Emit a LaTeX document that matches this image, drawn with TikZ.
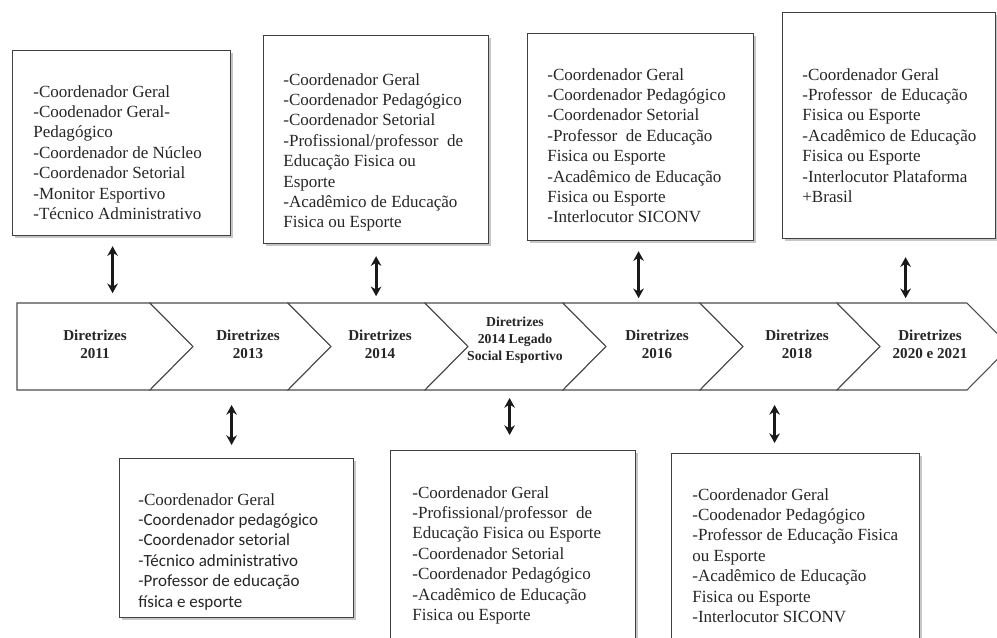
\documentclass[tikz,border=0pt]{standalone}
\usepackage{fontspec}
\setmainfont{Liberation Serif}
\newfontfamily\calibri{Carlito}
\usetikzlibrary{arrows.meta,shadows}

\tikzset{
  box/.style={draw=black!75, line width=0.7pt, fill=white, inner sep=0pt, anchor=north west,
    drop shadow={shadow xshift=1.6pt, shadow yshift=-1.6pt, opacity=0.45}},
  txt/.style={anchor=north west, align=left, inner sep=0pt, text=black!85,
    font=\fontsize{9.7}{11.6}\selectfont},
  chev/.style={draw=black!70, line width=0.6pt, fill=white},
  lbl/.style={align=center, inner sep=0pt, text=black!85,
    font=\fontsize{8.6}{10.2}\selectfont\bfseries},
  dblarrow/.style={{Stealth[length=5.5pt,width=6pt]}-{Stealth[length=5.5pt,width=6pt]},
    line width=1.7pt, black!90}
}

\begin{document}
\begin{tikzpicture}[x=0.02cm, y=-0.02cm]
  \useasboundingbox (0,0) rectangle (997,637);
  \clip (0,0) rectangle (997,637);

  % time line
  \draw[chev] (17,303) -- (150,303) -- ++(43,43.5) -- (150,390) -- (17,390) -- cycle;
  \foreach \l/\r in {150/288, 288/425, 425/563, 563/700, 700/837, 837/967}
    \draw[chev] (\l,303) -- (\r,303) -- ++(43,43.5) -- (\r,390) -- (\l,390) -- ++(43,-43.5) -- cycle;

  \node[lbl] (d1) at (95,344) {Diretrizes\\2011};
  \node[lbl] (d2) at (248,344) {Diretrizes\\2013};
  \node[lbl] (d3) at (380,344) {Diretrizes\\2014};
  \node[lbl, font=\fontsize{7.8}{9.6}\selectfont\bfseries] (d4) at (515,340) {Diretrizes\\2014 Legado\\Social Esportivo};
  \node[lbl] (d5) at (657,344) {Diretrizes\\2016};
  \node[lbl] (d6) at (797,344) {Diretrizes\\2018};
  \node[lbl] (d7) at (930,344) {Diretrizes\\2020 e 2021};

  % boxes above
  \node[box, minimum width=4.36cm, minimum height=3.7cm] (b1) at (12,50) {};
  \node[txt] (t1) at ([shift={(21,35)}]b1.north west)
    {-Coordenador Geral\\-Coodenador Geral-\\Pedagógico\\-Coordenador de Núcleo\\-Coordenador Setorial\\-Monitor Esportivo\\-Técnico Administrativo};

  \node[box, minimum width=4.5cm, minimum height=4.16cm] (b2) at (263,35) {};
  \node[txt] (t2) at ([shift={(20,38)}]b2.north west)
    {-Coordenador Geral\\-Coordenador Pedagógico\\-Coordenador Setorial\\-Profissional/professor~ de\\Educação Fisica ou\\Esporte\\-Acadêmico de Educação\\Fisica ou Esporte};

  \node[box, minimum width=4.52cm, minimum height=4.14cm] (b3) at (527,33) {};
  \node[txt] (t3) at ([shift={(20,35)}]b3.north west)
    {-Coordenador Geral\\-Coordenador Pedagógico\\-Coordenador Setorial\\-Professor~ de Educação\\Fisica ou Esporte\\-Acadêmico de Educação\\Fisica ou Esporte\\-Interlocutor SICONV};

  \node[box, minimum width=4.26cm, minimum height=4.52cm] (b4) at (782,12) {};
  \node[txt] (t4) at ([shift={(20,56)}]b4.north west)
    {-Coordenador Geral\\-Professor~ de Educação\\Fisica ou Esporte\\-Acadêmico de Educação\\Fisica ou Esporte\\-Interlocutor Plataforma\\+Brasil};

  % boxes below
  \node[box, minimum width=4.68cm, minimum height=3.18cm] (b5) at (119,458) {};
  \node[txt] (t5) at ([shift={(19,35)}]b5.north west)
    {-Coordenador Geral\\{\calibri -Coordenador pedagógico}\\{\calibri -Coordenador setorial}\\{\calibri -Técnico administrativo}\\{\calibri -Professor de educação}\\{\calibri física e esporte}};

  \node[box, minimum width=4.9cm, minimum height=4cm] (b6) at (390,450) {};
  \node[txt] (t6) at ([shift={(22,36)}]b6.north west)
    {-Coordenador Geral\\-Profissional/professor~ de\\Educação Fisica ou Esporte\\-Coordenador Setorial\\-Coordenador Pedagógico\\-Acadêmico de Educação\\Fisica ou Esporte};

  \node[box, minimum width=4.96cm, minimum height=4cm] (b7) at (671,453) {};
  \node[txt] (t7) at ([shift={(21,35)}]b7.north west)
    {-Coordenador Geral\\-Coodenador Pedagógico\\-Professor de Educação Fisica\\ou Esporte\\-Acadêmico de Educação\\Fisica ou Esporte\\-Interlocutor SICONV};

  % arrows
  \draw[dblarrow] ([shift={(-9,10)}]b1.south) -- ++(0,47);
  \draw[dblarrow] ([shift={(0,12)}]b2.south) -- ++(0,40);
  \draw[dblarrow] ([shift={(-2,10)}]b3.south) -- ++(0,47);
  \draw[dblarrow] ([shift={(16.5,18)}]b4.south) -- ++(0,41);
  \draw[dblarrow] ([shift={(-5,-13)}]b5.north) -- ++(0,-40);
  \draw[dblarrow] ([shift={(-3.5,-15)}]b6.north) -- ++(0,-37);
  \draw[dblarrow] ([shift={(-21,-10)}]b7.north) -- ++(0,-38);
\end{tikzpicture}
\end{document}
